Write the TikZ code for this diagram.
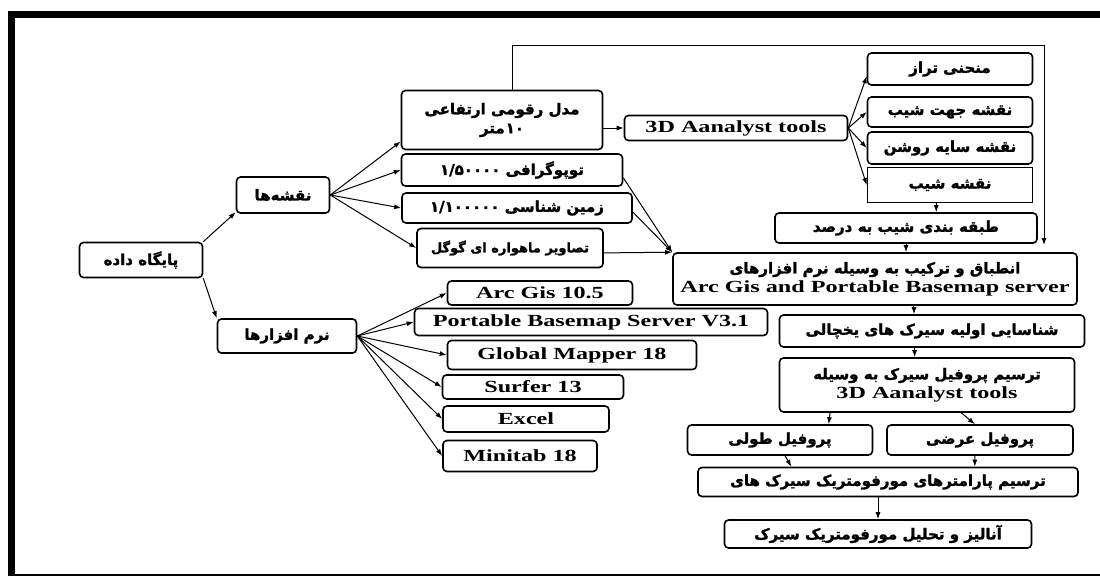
\documentclass[tikz,border=0pt]{standalone}
\usepackage{fontspec}
\setmainfont{Liberation Serif}[FakeStretch=1.42]
\newfontfamily\fafont[Script=Arabic,FakeBold=1.6]{DejaVu Sans Bold}
\TeXXeTstate=1
\usetikzlibrary{arrows.meta}
\newcommand{\fa}[2][15]{{\fafont\fontsize{#1}{20}\selectfont\beginR #2\endR}}

\begin{document}
\begin{tikzpicture}[x=1pt,y=-1pt,
	box/.style={draw=black,line width=1.6pt,rounded corners=4pt,inner sep=1pt,align=center,
		font=\bfseries\fontsize{17}{19}\selectfont},
	arr/.style={-{Latex[length=7pt,width=5pt]},line width=1pt}]
	\useasboundingbox (0,0) rectangle (1100,576);
	
	% frame
	\draw[line width=7pt] (11.5,576) -- (11.5,14.5) -- (1100,14.5);
	\draw[line width=2pt] (15,575) -- (1100,575);
	
	\node[box,minimum width=123,minimum height=35] (Database) at (141,260) {\fa{پایگاه داده}};
	\node[box,minimum width=93,minimum height=36] (Maps) at (283,195) {\fa{نقشه‌ها}};
	\node[box,minimum width=139,minimum height=34] (Software) at (287,336) {\fa{نرم افزارها}};
	
	\node[box,minimum width=201,minimum height=59] (DEM) at (502,120) {\fa{مدل رقومی ارتفاعی}\\\fa{۱۰\kern1pt متر}};
	\node[box,minimum width=221,minimum height=32] (Topo) at (512,170) {\fa{توپوگرافی ۱/۵۰۰۰۰}};
	\node[box,minimum width=230,minimum height=30] (Geo) at (517,208) {\fa{زمین شناسی ۱/۱۰۰۰۰۰}};
	\node[box,minimum width=186,minimum height=39] (Google) at (510,248) {\fa[13]{تصاویر ماهواره ای گوگل}};
	
	\node[box,minimum width=223,minimum height=25] (Tools) at (736,128) {3D Aanalyst tools};
	\node[box,minimum width=165,minimum height=32] (Contour) at (950,69) {\fa{منحنی تراز}};
	\node[box,minimum width=165,minimum height=30] (Aspect) at (950,112) {\fa{نقشه جهت شیب}};
	\node[box,minimum width=165,minimum height=32] (Hillshade) at (950,148) {\fa{نقشه سایه روشن}};
	\node[box,sharp corners,minimum width=165,minimum height=35] (Slope) at (950,185) {\fa{نقشه شیب}};
	\node[box,minimum width=262,minimum height=30] (SlopeClass) at (906,228) {\fa{طبقه بندی شیب به درصد}};
	
	\node[box,minimum width=404,minimum height=52] (Merge) at (875,279) {\fa{انطباق و ترکیب به وسیله نرم افزارهای}\\Arc Gis and Portable Basemap server};
	\node[box,minimum width=305,minimum height=32] (Cirque) at (932,331) {\fa{شناسایی اولیه سیرک های یخچالی}};
	\node[box,minimum width=295,minimum height=54] (Profile) at (927,385) {\fa{ترسیم پروفیل سیرک به وسیله}\\3D Aanalyst tools};
	\node[box,minimum width=185,minimum height=30] (LongProf) at (780,440) {\fa{پروفیل طولی}};
	\node[box,minimum width=186,minimum height=30] (CrossProf) at (980,440) {\fa{پروفیل عرضی}};
	\node[box,minimum width=380,minimum height=29] (Param) at (888,482) {\fa{ترسیم پارامترهای مورفومتریک سیرک های}};
	\node[box,minimum width=307,minimum height=28] (Analysis) at (878,534) {\fa{آنالیز و تحلیل مورفومتریک سیرک}};
	
	\foreach \name/\x/\y/\w/\h/\txt in {
		ArcGis/540/293/185/24/{Arc Gis 10.5},
		Basemap/591/322/353/27/{Portable Basemap Server V3.1},
		GMapper/572/355/249/29/{Global Mapper 18},
		Surfer/533/387/181/24/{Surfer 13},
		Excel/526/419/166/26/{Excel},
		Minitab/520/456/154/31/{Minitab 18}} {
		\node[box,minimum width=\w,minimum height=\h] (\name) at (\x,\y) {\txt};
	}
	
	\draw[arr] (Database.north east) -- (Maps.200);
	\draw[arr] (Database.south east) -- (Software.north west);
	
	\draw[arr] (Maps.east) -- (DEM.192);
	\foreach \name in {Topo,Geo,Google} {
		\draw[arr] (Maps.east) -- (\name.west);
	}
	\draw[arr] (Topo.-4) -- (Merge.north west);
	\draw[arr] (Geo.-2) -- (Merge.north west);
	\draw[arr] (Google.-3) -- (Merge.north west);
	
	\foreach \name in {ArcGis,Basemap,GMapper,Surfer,Excel,Minitab} {
		\draw[arr] (Software.east) -- (\name.west);
	}
	
	\draw[arr] (DEM.east |- Tools) -- (Tools);
	\draw[arr] (Tools.east) -- (Contour.185);
	\foreach \name in {Aspect,Hillshade,Slope} {
		\draw[arr] (Tools.east) -- (\name.west);
	}
	
	% loop back from the DEM
	\coordinate (LoopTop) at (1044,45);
	\coordinate (LoopEnd) at (1044,245);
	\draw[arr] ([xshift=10pt]DEM.north) |- (LoopTop) -- (LoopEnd);
	
	\draw[arr] (Slope.-127) -- (Slope.-127 |- SlopeClass.north);
	\draw[arr] (SlopeClass.south) -- (SlopeClass.south |- Merge.north);
	\draw[arr] (Merge.south -| Cirque.137) -- (Cirque.137);
	\draw[arr] (Cirque.south -| Profile.114) -- (Profile.114);
	\draw[arr] (Profile.-164) -- (LongProf.18);
	\draw[arr] (Profile.-39) -- (CrossProf.108);
	\draw[arr] (LongProf.-72) -- (Param.171);
	\draw[arr] (CrossProf.-108) -- (Param.10);
	\draw[arr] (Param.south -| Analysis.north) -- (Analysis.north);
	
\end{tikzpicture}
\end{document}
